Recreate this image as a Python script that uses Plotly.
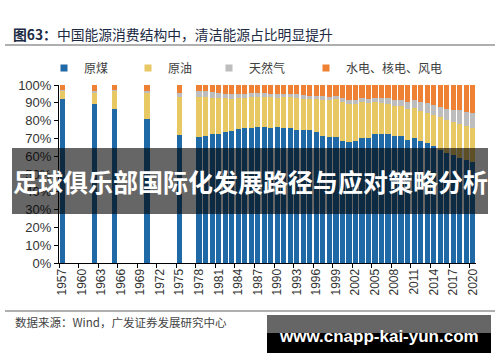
import plotly.graph_objects as go

# ---- data (shares of total energy consumption, %) ----
all_years = [str(y) for y in range(1957, 2021)]
data_years = [1957, 1962, 1965, 1970, 1975] + list(range(1978, 2021))
coal = [92.3, 89.2, 86.5, 80.9, 71.9,
        70.7, 71.3, 72.2, 72.7, 73.7, 74.2, 75.3, 75.8, 75.8, 76.2, 76.2, 76.1,
        76.2, 76.1, 75.7, 74.7, 75.0, 74.6, 73.5, 71.4, 70.9, 70.6, 68.5, 68.0,
        68.5, 70.2, 70.2, 72.4, 72.4, 72.5, 71.5, 71.6, 69.2, 70.2, 68.5, 67.4,
        65.6, 63.7, 62.0, 60.4, 59.0, 57.7, 56.8]
oil = [4.6, 6.6, 10.3, 14.7, 21.1,
       22.7, 21.8, 20.7, 20.0, 18.9, 18.1, 17.4, 17.1, 17.2, 17.0, 17.0, 17.1,
       16.6, 17.1, 17.5, 18.2, 17.4, 17.5, 18.7, 20.4, 20.8, 21.5, 22.0, 21.2,
       21.0, 20.1, 19.9, 17.8, 17.5, 17.0, 16.7, 16.4, 17.4, 16.8, 17.0, 17.1,
       17.4, 18.3, 18.5, 18.8, 18.9, 19.0, 18.9]
gas = [0.1, 0.9, 0.6, 0.9, 2.5,
       3.2, 3.3, 3.1, 2.8, 2.5, 2.4, 2.4, 2.2, 2.3, 2.1, 2.1, 2.0,
       2.1, 2.0, 1.9, 1.9, 1.9, 1.8, 1.8, 1.8, 1.8, 2.0, 2.2, 2.4,
       2.3, 2.3, 2.3, 2.4, 2.7, 3.0, 3.4, 3.5, 4.0, 4.6, 4.8, 5.3,
       5.7, 5.9, 6.2, 7.0, 7.8, 8.0, 8.4]
clean = [3.0, 3.3, 2.6, 3.5, 4.5,
         3.4, 3.6, 4.0, 4.5, 4.9, 5.3, 4.9, 4.9, 4.7, 4.7, 4.7, 4.8,
         5.1, 4.8, 4.9, 5.2, 5.7, 6.1, 6.0, 6.4, 6.5, 5.9, 7.3, 8.4,
         8.2, 7.4, 7.6, 7.4, 7.4, 7.5, 8.4, 8.5, 9.4, 8.4, 9.7, 10.2,
         11.3, 12.1, 13.3, 13.8, 14.3, 15.3, 15.9]
series_names = ["原煤", "原油", "天然气", "水电、核电、风电"]
series_colors = ["#1f69a6", "#e8c862", "#bdbdbd", "#ef8134"]
y_ticks = list(range(0, 101, 10))
y_tick_labels = [f"{v}%" for v in y_ticks]

title_text = "<b>图63：</b>中国能源消费结构中，清洁能源占比明显提升"
source_text = "数据来源：Wind，广发证券发展研究中心"
banner_text = "足球俱乐部国际化发展路径与应对策略分析"
watermark_text = "www.cnapp-kai-yun.com"


def full(values):
    m = dict(zip(data_years, values))
    return [m.get(int(y)) for y in all_years]


fig = go.Figure()
legend_widths = [39, 36, 52, 0]
for name, vals, col, lw in zip(series_names, [coal, oil, gas, clean], series_colors, legend_widths):
    fig.add_trace(go.Bar(x=all_years, y=full(vals), name=name, marker_color=col,
                         marker_line_width=0, showlegend=False))
    fig.add_trace(go.Scatter(x=[None], y=[None], mode="markers", name=name,
                             marker=dict(symbol="square", size=7, color=col),
                             legendwidth=lw if lw else None))

# plot area in pixels: x 59..476, y 85..263
L, R, T, B = 59, 476, 85, 263
W, H = R - L, B - T
def px(x):
    return (x - L) / W
def py(y):
    return (B - y) / H

fig.update_layout(
    width=500, height=362,
    margin=dict(l=L, r=500 - R, t=T, b=362 - B, autoexpand=False),
    paper_bgcolor="white", plot_bgcolor="white",
    barmode="stack", bargap=0.2,
    font=dict(family="Liberation Sans, Arial, sans-serif", color="#333333", size=12),
    title=dict(text=title_text, xref="container", yref="container",
               x=13 / 500, xanchor="left", y=1 - 35 / 362, yanchor="middle",
               font=dict(family="Noto Sans CJK SC", size=13.8, color="#1c2a44")),
    legend=dict(orientation="h", xref="container", yref="container",
                x=44 / 500, xanchor="left", y=1 - 68 / 362, yanchor="middle",
                font=dict(family="Noto Sans CJK SC", size=12, color="#404040"),
                bgcolor="rgba(0,0,0,0)", itemwidth=30, tracegroupgap=0,
                traceorder="normal"),
    xaxis=dict(type="category", categoryorder="array", categoryarray=all_years,
               range=[-0.5, len(all_years) - 0.5], automargin=False,
               tickmode="linear", tick0=0, dtick=3, tickson="boundaries",
               tickangle=-90, ticks="outside", ticklen=4, tickcolor="#000",
               showline=True, linecolor="#000", linewidth=1, showgrid=False,
               tickfont=dict(size=12, color="#333333")),
    yaxis=dict(range=[0, 100], tickmode="array", tickvals=y_ticks, ticktext=y_tick_labels,
               automargin=False,
               ticks="outside", ticklen=4, tickcolor="#000",
               showline=True, linecolor="#000", linewidth=1, showgrid=False,
               zeroline=False, tickfont=dict(size=13, color="#333333")),
)

shapes = [
    dict(type="line", xref="paper", yref="paper", x0=px(5), x1=px(495), y0=py(45), y1=py(45),
         line=dict(color="#606060", width=1.2)),
    dict(type="line", xref="paper", yref="paper", x0=px(5), x1=px(495), y0=py(311), y1=py(311),
         line=dict(color="#606060", width=1.2)),
    dict(type="rect", xref="paper", yref="paper", x0=px(12), x1=px(488), y0=py(148), y1=py(214),
         fillcolor="rgba(0,0,0,0.6)", line_width=0, layer="above"),
    dict(type="rect", xref="paper", yref="paper", x0=px(267), x1=px(491), y0=py(315), y1=py(333),
         fillcolor="rgba(0,0,0,0.6)", line_width=0, layer="above"),
    dict(type="rect", xref="paper", yref="paper", x0=px(267), x1=px(491), y0=py(333), y1=py(353),
         fillcolor="#000000", line_width=0, layer="above"),
]
fig.update_layout(shapes=shapes)

fig.add_annotation(text=source_text, xref="paper", yref="paper", x=px(13), y=py(322),
                   xanchor="left", yanchor="middle", showarrow=False,
                   font=dict(family="Noto Sans CJK SC", size=11.5, color="#444444"))
fig.add_annotation(text="<b>" + banner_text + "</b>", xref="paper", yref="paper",
                   x=px(250), y=py(181), xanchor="center", yanchor="middle", showarrow=False,
                   font=dict(family="Noto Sans CJK SC", size=25, color="white"))
fig.add_annotation(text="<b>" + watermark_text + "</b>", xref="paper", yref="paper",
                   x=px(379), y=py(336), xanchor="center", yanchor="middle", showarrow=False,
                   font=dict(family="Liberation Sans, Arial", size=17, color="white"))

fig.write_html("out.html", config={"displayModeBar": False},
               post_script="document.body.style.margin='0';document.body.style.overflow='hidden';")
